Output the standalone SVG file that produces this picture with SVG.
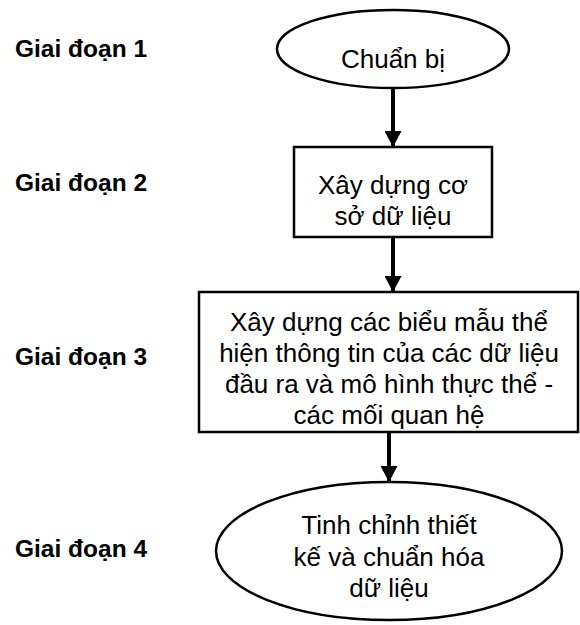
<svg xmlns="http://www.w3.org/2000/svg" width="580" height="625" viewBox="0 0 580 625">
  <style>
    .shape { fill: #ffffff; stroke: #000000; stroke-width: 2.5; }
    .label { font-family: "Liberation Sans", Arial, sans-serif; font-size: 26px; fill: #000000; text-anchor: middle; }
    .stage { font-family: "Liberation Sans", Arial, sans-serif; font-size: 24.5px; font-weight: bold; fill: #000000; }
    .flow { stroke: #000000; stroke-width: 4; fill: none; marker-end: url(#head); }
  </style>
  <defs>
    <marker id="head" markerUnits="userSpaceOnUse" markerWidth="16" markerHeight="17" viewBox="0 0 16 17" refX="16" refY="8.5" orient="auto">
      <path d="M0,0 L16,8.5 L0,17 Z" fill="#000000"/>
    </marker>
  </defs>
  <rect width="580" height="625" fill="#ffffff"/>

  <!-- stage labels -->
  <g id="stages">
    <text class="stage" x="15" y="57">Giai đoạn 1</text>
    <text class="stage" x="15" y="191">Giai đoạn 2</text>
    <text class="stage" x="15" y="365">Giai đoạn 3</text>
    <text class="stage" x="15" y="557">Giai đoạn 4</text>
  </g>

  <!-- connectors -->
  <g id="connectors">
    <line class="flow" x1="393" y1="88" x2="393" y2="147"/>
    <line class="flow" x1="393" y1="237" x2="393" y2="292"/>
    <line class="flow" x1="389" y1="432" x2="389" y2="482"/>
  </g>

  <g id="node-prepare">
    <ellipse class="shape" cx="393" cy="49" rx="116" ry="39"/>
    <text class="label" x="393" y="68">Chuẩn bị</text>
  </g>

  <g id="node-database">
    <rect class="shape" x="294" y="147" width="198" height="90"/>
    <text class="label" x="393" y="194">Xây dựng cơ</text>
    <text class="label" x="393" y="225">sở dữ liệu</text>
  </g>

  <g id="node-forms">
    <rect class="shape" x="199" y="292" width="379" height="140"/>
    <text class="label" x="389" y="331">Xây dựng các biểu mẫu thể</text>
    <text class="label" x="389" y="362">hiện thông tin của các dữ liệu</text>
    <text class="label" x="389" y="393">đầu ra và mô hình thực thể -</text>
    <text class="label" x="389" y="424">các mối quan hệ</text>
  </g>

  <g id="node-refine">
    <ellipse class="shape" cx="389" cy="551" rx="173" ry="69"/>
    <text class="label" x="389" y="534">Tinh chỉnh thiết</text>
    <text class="label" x="389" y="566">kế và chuẩn hóa</text>
    <text class="label" x="389" y="597">dữ liệu</text>
  </g>
</svg>
